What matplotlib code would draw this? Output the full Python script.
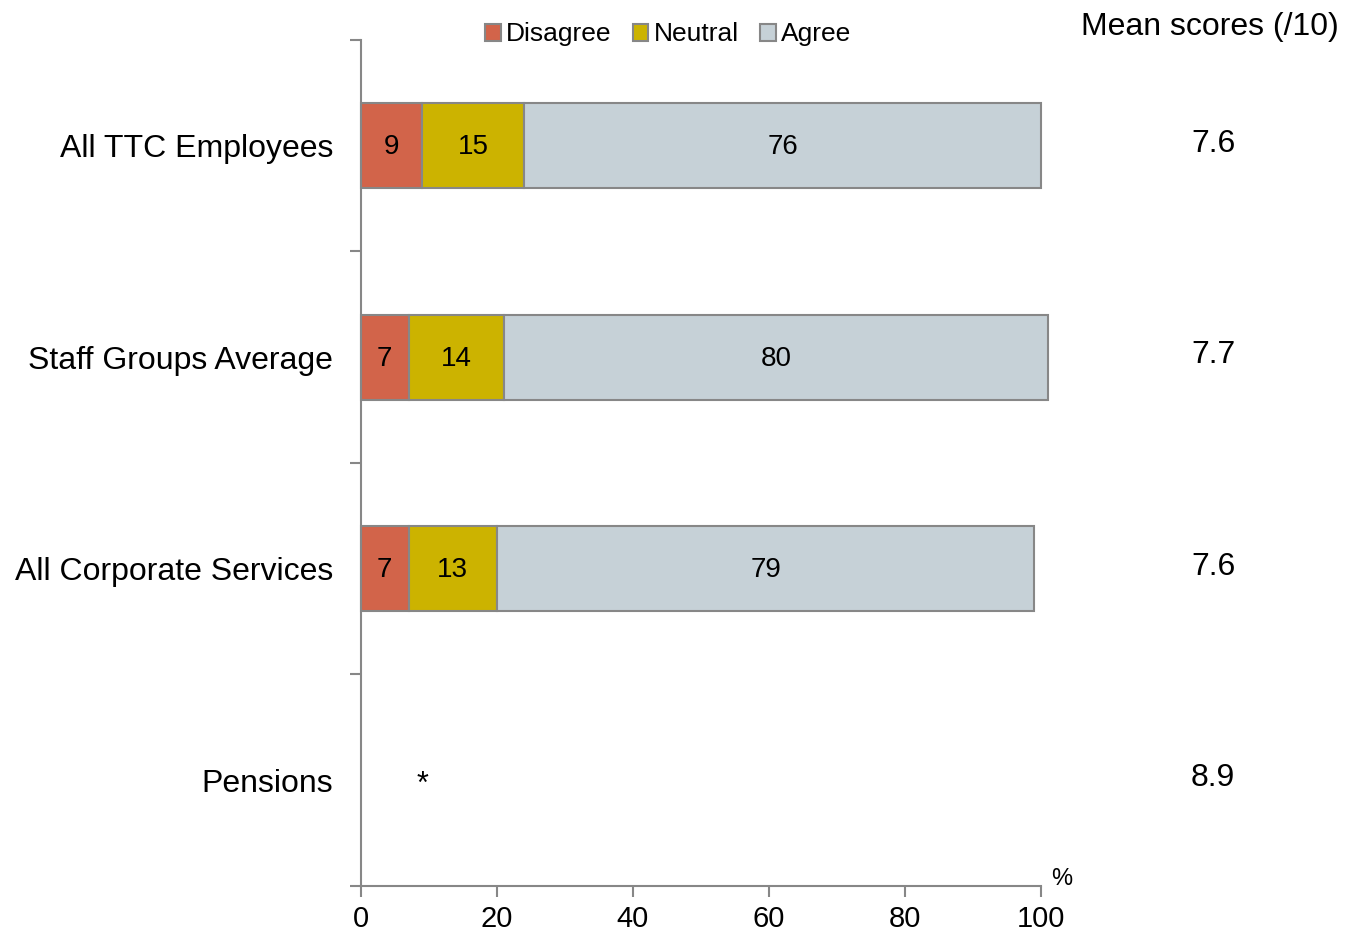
import numpy as np
import matplotlib.pyplot as plt

plt.rcParams['font.family'] = ['Liberation Sans', 'DejaVu Sans']

categories = ["All TTC Employees", "Staff Groups Average", "All Corporate Services", "Pensions"]
disagree = [9, 7, 7, 0]
neutral = [15, 14, 13, 0]
agree = [76, 80, 79, 0]
mean_scores = ["7.6", "7.7", "7.6", "8.9"]
series_names = ["Disagree", "Neutral", "Agree"]
colors = ["#D2644A", "#CCB300", "#C6D1D7"]
edge = "#878787"

fig = plt.figure(figsize=(13.58, 9.32), dpi=100)
ax = fig.add_axes([0.2658, 0.0494, 0.5008, 0.9077])

y = np.arange(len(categories))
left = np.zeros(len(categories))
for name, vals, c in zip(series_names, [disagree, neutral, agree], colors):
    vals = np.array(vals, dtype=float)
    shown = vals > 0
    ax.barh(y[shown], vals[shown], left=left[shown], height=0.4,
            color=c, edgecolor=edge, linewidth=1.5, label=name, clip_on=False)
    for yi, l, v in zip(y[shown], left[shown], vals[shown]):
        ax.text(l + v / 2, yi + 0.008, f"{v:.0f}", ha='center', va='center', fontsize=20)
    left = left + vals

# no data for Pensions
ax.text(9, 3.02, "*", ha='center', va='center', fontsize=22)

ax.set_xlim(0, 100)
ax.set_ylim(3.5, -0.5)
ax.set_xticks([0, 20, 40, 60, 80, 100])
ax.set_xticklabels(["0", "20", "40", "60", "80", "100"],
                   family=['Liberation Sans Narrow', 'Liberation Sans'], fontsize=21)
ax.set_yticks(np.arange(-0.5, 4.0, 1.0))
ax.set_yticklabels([])
ax.set_yticks(y, minor=True)
ax.set_yticklabels(categories, minor=True, fontsize=23)
ax.tick_params(axis='y', which='minor', length=0, pad=20)
ax.tick_params(axis='y', which='major', length=8, width=1.5, color=edge, direction='out')
ax.tick_params(axis='x', length=8, width=1.5, color=edge, direction='out', pad=6)

for s in ['top', 'right']:
    ax.spines[s].set_visible(False)
for s in ['left', 'bottom']:
    ax.spines[s].set_color(edge)
    ax.spines[s].set_linewidth(1.5)

ax.text(1.031, 0.008, "%", transform=ax.transAxes, ha='center', va='center', fontsize=17)

for yi, m in zip(y, mean_scores):
    ax.text(1.253, yi - 0.01, m, transform=ax.get_yaxis_transform(),
            ha='center', va='center', fontsize=23)
fig.text(0.9855, 0.971, "Mean scores (/10)", ha='right', va='center', fontsize=23)

ax.legend(loc='center', bbox_to_anchor=(0.492, 0.963), bbox_transform=fig.transFigure,
          ncol=3, frameon=False, fontsize=19, handlelength=0.6, handleheight=0.6,
          handletextpad=0.2, columnspacing=0.8, borderaxespad=0)

fig.savefig("out.png", dpi=100)
